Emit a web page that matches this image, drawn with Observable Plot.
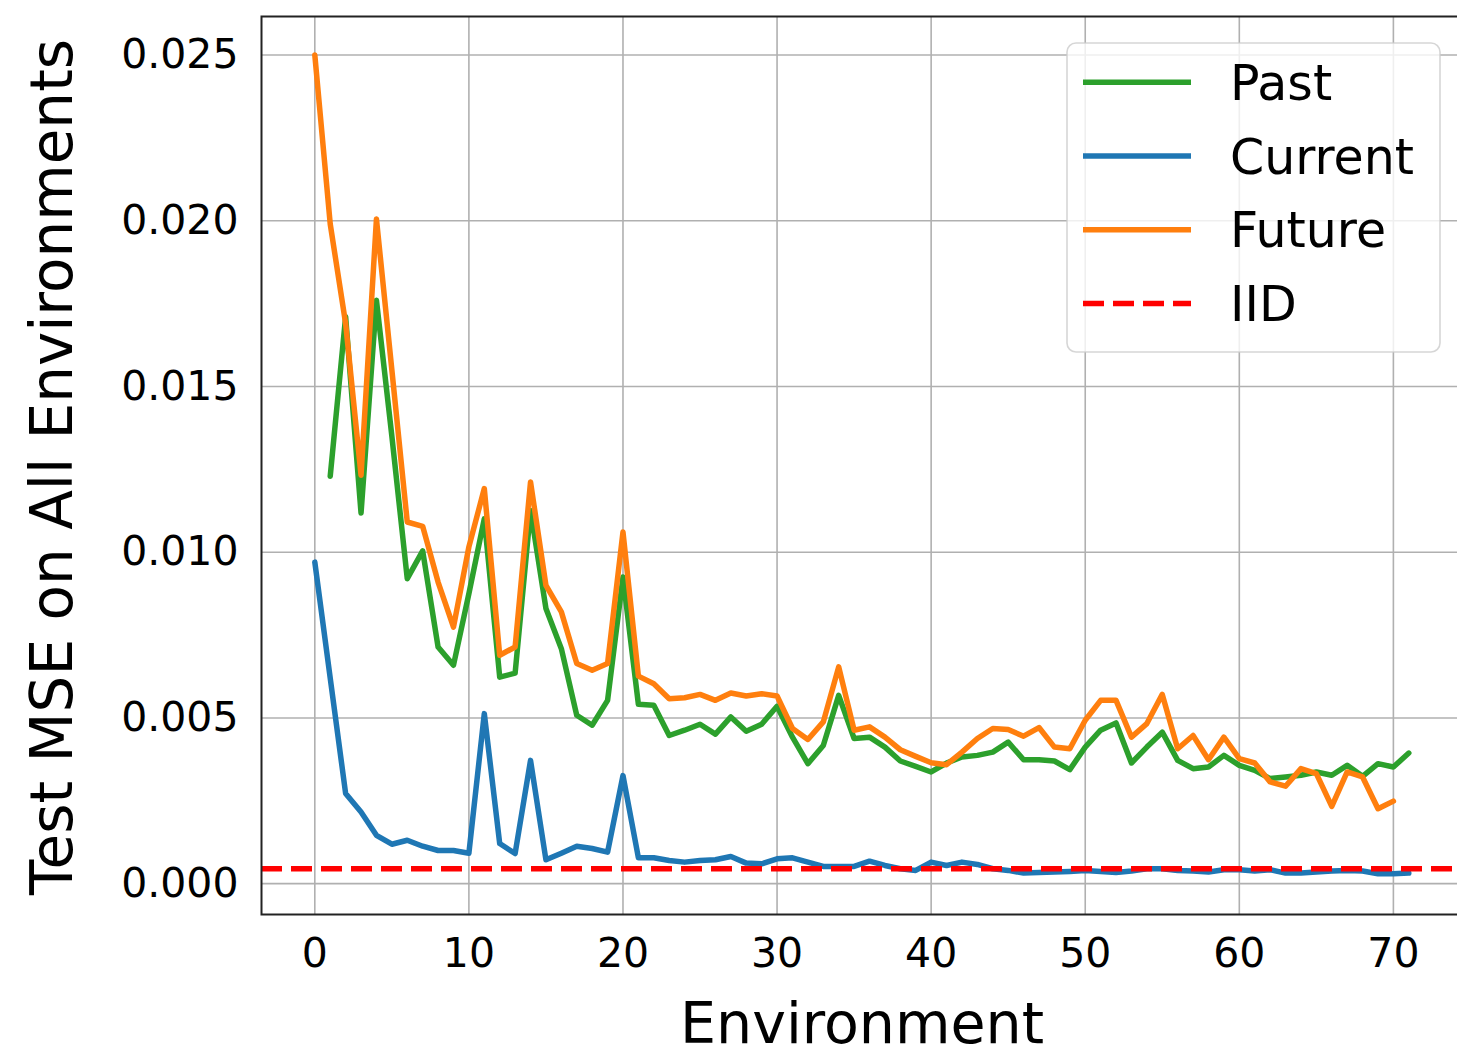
<!DOCTYPE html>
<html><head><meta charset="utf-8">
<script src="https://cdn.jsdelivr.net/npm/d3@7"></script>
<script src="https://cdn.jsdelivr.net/npm/@observablehq/plot@0.6"></script>
<style>
html,body{margin:0;padding:0;background:#fff;overflow:hidden}
#chart{position:relative;width:1457px;height:1052px}
</style></head><body><div id="chart"></div>
<script>
const xLabel = "Environment";
const yLabel = "Test MSE on All Environments";
const xTicks = [0, 10, 20, 30, 40, 50, 60, 70];
const yTicks = [0, 0.005, 0.010, 0.015, 0.020, 0.025];
const seriesNames = ["Past", "Current", "Future", "IID"];
const seriesColors = ["#2ca02c", "#1f77b4", "#ff7f0e", "#ff0000"];

// Past: environments 1..71
const pastStart = 1;
const past = [
  0.01229, 0.0171, 0.01118, 0.0176, 0.0135, 0.0092, 0.01004, 0.00714, 0.00659, 0.00875,
  0.01101, 0.00623, 0.00635, 0.01126, 0.0083, 0.00709, 0.00508, 0.00478, 0.00553, 0.00925,
  0.00541, 0.00538, 0.00447, 0.00463, 0.00481, 0.00451, 0.00503, 0.0046, 0.00481, 0.00535,
  0.00442, 0.00362, 0.00417, 0.00568, 0.00438, 0.00442, 0.00412, 0.0037, 0.00354, 0.00337,
  0.00364, 0.00382, 0.00387, 0.00397, 0.00427, 0.00374, 0.00374, 0.0037, 0.00344, 0.00412,
  0.00463, 0.00485, 0.00364, 0.00412, 0.00457, 0.00372, 0.00347, 0.00352, 0.00387, 0.00357,
  0.00342, 0.00317, 0.00322, 0.00327, 0.00337, 0.00327, 0.00357, 0.00324, 0.00362, 0.00352,
  0.00394
];

// Current: environments 0..71
const currentStart = 0;
const current = [
  0.0097, 0.0062, 0.00272, 0.00216, 0.00146, 0.00119, 0.00131, 0.00113, 0.001, 0.001,
  0.00092, 0.00513, 0.00121, 0.00091, 0.00372, 0.00072, 0.00092, 0.00113, 0.00106, 0.00095,
  0.00326, 0.00078, 0.00078, 0.0007, 0.00065, 0.0007, 0.00072, 0.00082, 0.00062, 0.0006,
  0.00075, 0.00078, 0.00065, 0.00052, 0.00052, 0.00052, 0.00068, 0.00055, 0.00045, 0.0004,
  0.00065, 0.00055, 0.00065, 0.00058, 0.00045, 0.0004, 0.00032, 0.00034, 0.00035, 0.00037,
  0.0004, 0.00037, 0.00034, 0.00038, 0.00045, 0.00045, 0.0004, 0.00038, 0.00035, 0.00042,
  0.00042, 0.00038, 0.00042, 0.00032, 0.00032, 0.00035, 0.00038, 0.0004, 0.00038, 0.0003,
  0.0003, 0.00032
];

// Future: environments 0..70
const futureStart = 0;
const future = [
  0.025, 0.0199, 0.0169, 0.01232, 0.02005, 0.0155, 0.01091, 0.01078, 0.0091, 0.00774,
  0.01016, 0.01192, 0.00689, 0.00714, 0.01212, 0.009, 0.0082, 0.00664, 0.00644, 0.00664,
  0.01061, 0.00626, 0.00603, 0.00558, 0.00561, 0.00571, 0.00553, 0.00575, 0.00566, 0.00573,
  0.00566, 0.00468, 0.00435, 0.00488, 0.00654, 0.00463, 0.00473, 0.00442, 0.00404, 0.00384,
  0.00365, 0.00359, 0.00397, 0.00438, 0.00468, 0.00465, 0.00445, 0.00471, 0.00412, 0.00407,
  0.00493, 0.00553, 0.00553, 0.00442, 0.00483, 0.00571, 0.00407, 0.00447, 0.00374, 0.00442,
  0.00377, 0.00364, 0.00307, 0.00294, 0.00347, 0.00332, 0.00233, 0.00337, 0.00322, 0.00226,
  0.00249
];

const iid = 0.00045;

const toRows = (name, start, vals) => vals.map((v, i) => ({series: name, env: start + i, mse: v}));
const pastRows = toRows("Past", pastStart, past);
const currentRows = toRows("Current", currentStart, current);
const futureRows = toRows("Future", futureStart, future);

const font = "'DejaVu Sans', sans-serif";
const gridStyle = {stroke: "#b0b0b0", strokeOpacity: 1, strokeWidth: 1.6};
const lineW = 5.5;

const plot = Plot.plot({
  width: 1457,
  height: 1052,
  marginLeft: 261,
  marginRight: -6,
  marginTop: 16,
  marginBottom: 138,
  style: {fontFamily: font, background: "white", color: "black"},
  x: {domain: [-3.46, 74.55]},
  y: {domain: [-0.00093, 0.02616]},
  marks: [
    Plot.gridX(xTicks, gridStyle),
    Plot.gridY(yTicks, gridStyle),
    Plot.line(pastRows, {x: "env", y: "mse", stroke: seriesColors[0], strokeWidth: lineW}),
    Plot.line(currentRows, {x: "env", y: "mse", stroke: seriesColors[1], strokeWidth: lineW}),
    Plot.line(futureRows, {x: "env", y: "mse", stroke: seriesColors[2], strokeWidth: lineW}),
    Plot.ruleY([iid], {stroke: seriesColors[3], strokeWidth: 5.5, strokeDasharray: "21,9"}),
    Plot.axisX(xTicks, {tickSize: 0, tickPadding: 23, fontSize: 41, fill: "black", label: null, tickFormat: d => String(d)}),
    Plot.axisY(yTicks, {tickSize: 0, tickPadding: 23, fontSize: 41, fill: "black", label: null, tickFormat: d3.format(".3f")}),
    Plot.frame({stroke: "#222", strokeWidth: 2})
  ]
});

document.getElementById("chart").appendChild(plot);

const svg = d3.select(plot);

// Axis titles
svg.append("text")
  .attr("x", 862).attr("y", 1043)
  .attr("text-anchor", "middle")
  .attr("font-family", font).attr("font-size", 57).attr("fill", "black")
  .text(xLabel);

svg.append("text")
  .attr("transform", "translate(72,467) rotate(-90)")
  .attr("text-anchor", "middle")
  .attr("font-family", font).attr("font-size", 58).attr("fill", "black")
  .text(yLabel);

// Legend
const lg = svg.append("g");
lg.append("rect")
  .attr("x", 1067).attr("y", 43).attr("width", 373).attr("height", 309)
  .attr("rx", 9).attr("ry", 9)
  .attr("fill", "white").attr("fill-opacity", 0.8)
  .attr("stroke", "#cccccc").attr("stroke-opacity", 0.8).attr("stroke-width", 1.6);
seriesNames.forEach((name, i) => {
  const y = 82.3 + i * 73.7;
  lg.append("line")
    .attr("x1", 1083).attr("x2", 1191).attr("y1", y).attr("y2", y)
    .attr("stroke", seriesColors[i])
    .attr("stroke-width", lineW)
    .attr("stroke-dasharray", name === "IID" ? "21,9" : null);
  lg.append("text")
    .attr("x", 1230).attr("y", y + 17.5)
    .attr("text-anchor", "start")
    .attr("font-family", font).attr("font-size", 49).attr("fill", "black")
    .text(name);
});
</script>
</body></html>
